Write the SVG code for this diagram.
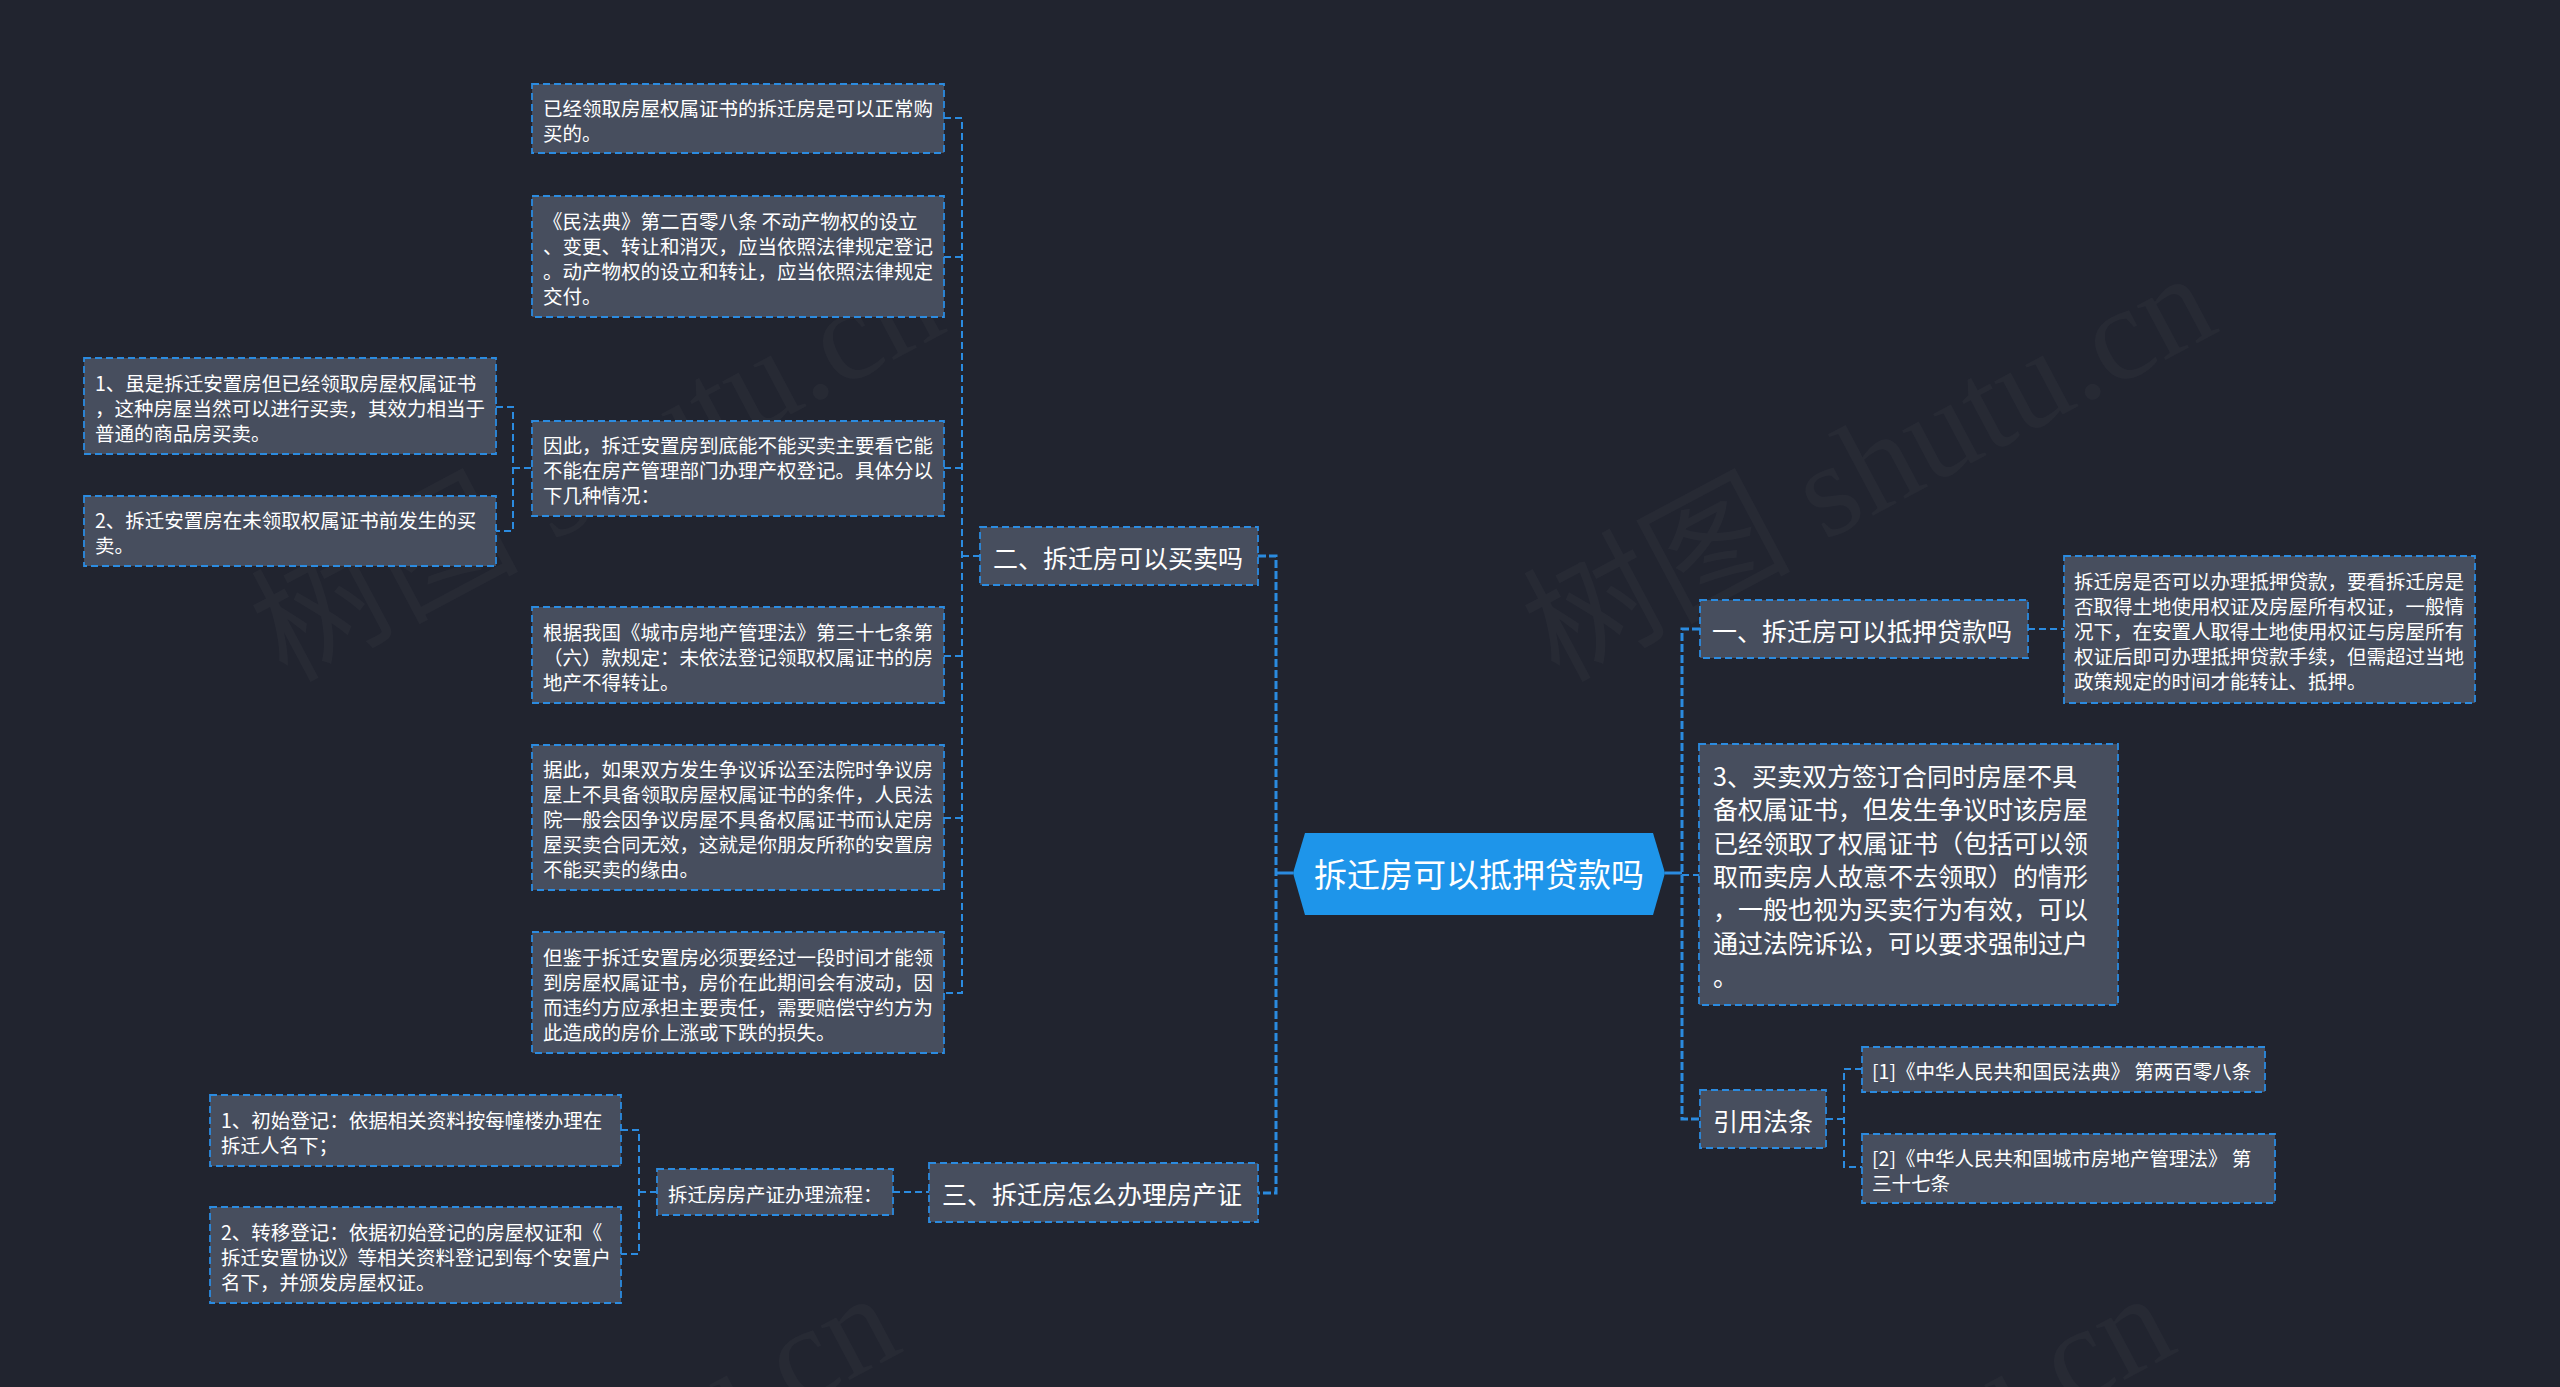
<svg xmlns="http://www.w3.org/2000/svg" width="2560" height="1387" viewBox="0 0 2560 1387">
<style>
.bg{fill:#21242f}
.wm{font-family:"Liberation Serif","Noto Sans CJK SC",serif;font-size:134px;fill:#ffffff;fill-opacity:0.028}
.box{fill:#474e5e;stroke:#2b8be0;stroke-width:1.8;stroke-dasharray:7 4}
.t{font-family:"Noto Sans CJK SC","Noto Sans",sans-serif;fill:#ffffff}
.s{font-size:19.5px}
.b{font-size:25px}
.c{font-size:33px}
.ln{fill:none;stroke:#2b8be0;stroke-width:2;stroke-dasharray:7 4}
.tr{fill:none;stroke:#2b8be0;stroke-width:3;stroke-dasharray:8 3}
.sol{fill:none;stroke:#2b8be0;stroke-width:3}
</style>
<rect class="bg" x="0" y="0" width="2560" height="1387"/>
<g id="watermarks">
<text class="wm" text-anchor="end" transform="translate(950,330) rotate(-28)">树图 shutu.cn</text>
<text class="wm" text-anchor="end" transform="translate(2222,330) rotate(-28)">树图 shutu.cn</text>
<text class="wm" text-anchor="end" transform="translate(906,1350) rotate(-28)">树图 shutu.cn</text>
<text class="wm" text-anchor="end" transform="translate(2181,1350) rotate(-28)">树图 shutu.cn</text>
</g>
<g id="connectors">
<path class="ln" d="M944 118 H962 V993 H944"/>
<path class="ln" d="M944 257 H962 M944 468 H962 M944 656 H962 M944 818 H962 M962 556 H980"/>
<path class="ln" d="M496 407 H513 V531 H496 M513 468 H532"/>
<path class="ln" d="M621 1130 H639 V1254 H621 M639 1192 H657"/>
<path class="ln" d="M893 1192 H929"/>
<path class="tr" d="M1258 556 H1276 V1193 H1258"/>
<path class="sol" d="M1276 873 H1293"/>
<path class="sol" d="M1665 873 H1682"/>
<path class="tr" d="M1700 629 H1682 V1119 H1700"/>
<path class="ln" d="M1682 875 H1699"/>
<path class="ln" d="M2028 629 H2064"/>
<path class="ln" d="M1826 1119 H1844 M1862 1069 H1844 V1167 H1862"/>
</g>
<g id="center">
<polygon points="1293,873 1305,833 1653,833 1665,873 1653,915 1305,915" fill="#1e95ea"/>
<text class="t c" x="1479" y="886.5" text-anchor="middle">拆迁房可以抵押贷款吗</text>
</g>
<g id="n-er">
<rect class="box" x="980" y="527" width="278" height="58"/>
<text class="t b" x="993" y="567.5">二、拆迁房可以买卖吗</text>
</g>
<g id="n1">
<rect class="box" x="532" y="84" width="412" height="69"/>
<text class="t s" x="543" y="115.5">已经领取房屋权属证书的拆迁房是可以正常购</text>
<text class="t s" x="543" y="140.5">买的。</text>
</g>
<g id="n2">
<rect class="box" x="532" y="196" width="412" height="121"/>
<text class="t s" x="543" y="228.5">《民法典》第二百零八条 不动产物权的设立</text>
<text class="t s" x="543" y="253.5">、变更、转让和消灭，应当依照法律规定登记</text>
<text class="t s" x="543" y="278.5">。动产物权的设立和转让，应当依照法律规定</text>
<text class="t s" x="543" y="303.5">交付。</text>
</g>
<g id="n3">
<rect class="box" x="532" y="421" width="412" height="95"/>
<text class="t s" x="543" y="453">因此，拆迁安置房到底能不能买卖主要看它能</text>
<text class="t s" x="543" y="478">不能在房产管理部门办理产权登记。具体分以</text>
<text class="t s" x="543" y="503">下几种情况：</text>
</g>
<g id="n3a">
<rect class="box" x="84" y="358" width="412" height="96"/>
<text class="t s" x="95" y="390.5">1、虽是拆迁安置房但已经领取房屋权属证书</text>
<text class="t s" x="95" y="415.5">，这种房屋当然可以进行买卖，其效力相当于</text>
<text class="t s" x="95" y="440.5">普通的商品房买卖。</text>
</g>
<g id="n3b">
<rect class="box" x="84" y="496" width="412" height="70"/>
<text class="t s" x="95" y="528">2、拆迁安置房在未领取权属证书前发生的买</text>
<text class="t s" x="95" y="553">卖。</text>
</g>
<g id="n4">
<rect class="box" x="532" y="607" width="412" height="96"/>
<text class="t s" x="543" y="639.5">根据我国《城市房地产管理法》第三十七条第</text>
<text class="t s" x="543" y="664.5">（六）款规定：未依法登记领取权属证书的房</text>
<text class="t s" x="543" y="689.5">地产不得转让。</text>
</g>
<g id="n5">
<rect class="box" x="532" y="745" width="412" height="145"/>
<text class="t s" x="543" y="777">据此，如果双方发生争议诉讼至法院时争议房</text>
<text class="t s" x="543" y="802">屋上不具备领取房屋权属证书的条件，人民法</text>
<text class="t s" x="543" y="827">院一般会因争议房屋不具备权属证书而认定房</text>
<text class="t s" x="543" y="852">屋买卖合同无效，这就是你朋友所称的安置房</text>
<text class="t s" x="543" y="877">不能买卖的缘由。</text>
</g>
<g id="n6">
<rect class="box" x="532" y="932" width="412" height="121"/>
<text class="t s" x="543" y="964.5">但鉴于拆迁安置房必须要经过一段时间才能领</text>
<text class="t s" x="543" y="989.5">到房屋权属证书，房价在此期间会有波动，因</text>
<text class="t s" x="543" y="1014.5">而违约方应承担主要责任，需要赔偿守约方为</text>
<text class="t s" x="543" y="1039.5">此造成的房价上涨或下跌的损失。</text>
</g>
<g id="n-san">
<rect class="box" x="929" y="1163" width="329" height="59"/>
<text class="t b" x="942" y="1204">三、拆迁房怎么办理房产证</text>
</g>
<g id="n-flow">
<rect class="box" x="657" y="1169" width="236" height="46"/>
<text class="t s" x="668" y="1201.5">拆迁房房产证办理流程：</text>
</g>
<g id="n-c1">
<rect class="box" x="210" y="1095" width="411" height="71"/>
<text class="t s" x="221" y="1127.5">1、初始登记：依据相关资料按每幢楼办理在</text>
<text class="t s" x="221" y="1152.5">拆迁人名下；</text>
</g>
<g id="n-c2">
<rect class="box" x="210" y="1207" width="411" height="96"/>
<text class="t s" x="221" y="1239.5">2、转移登记：依据初始登记的房屋权证和《</text>
<text class="t s" x="221" y="1264.5">拆迁安置协议》等相关资料登记到每个安置户</text>
<text class="t s" x="221" y="1289.5">名下，并颁发房屋权证。</text>
</g>
<g id="n-yi">
<rect class="box" x="1700" y="600" width="328" height="58"/>
<text class="t b" x="1712" y="640.5">一、拆迁房可以抵押贷款吗</text>
</g>
<g id="n-r1">
<rect class="box" x="2064" y="556" width="411" height="147"/>
<text class="t s" x="2074" y="589">拆迁房是否可以办理抵押贷款，要看拆迁房是</text>
<text class="t s" x="2074" y="614">否取得土地使用权证及房屋所有权证，一般情</text>
<text class="t s" x="2074" y="639">况下，在安置人取得土地使用权证与房屋所有</text>
<text class="t s" x="2074" y="664">权证后即可办理抵押贷款手续，但需超过当地</text>
<text class="t s" x="2074" y="689">政策规定的时间才能转让、抵押。</text>
</g>
<g id="n-3">
<rect class="box" x="1699" y="744" width="419" height="261"/>
<text class="t b" x="1713" y="786">3、买卖双方签订合同时房屋不具</text>
<text class="t b" x="1713" y="819.4">备权属证书，但发生争议时该房屋</text>
<text class="t b" x="1713" y="852.7">已经领取了权属证书（包括可以领</text>
<text class="t b" x="1713" y="886">取而卖房人故意不去领取）的情形</text>
<text class="t b" x="1713" y="919.3">，一般也视为买卖行为有效，可以</text>
<text class="t b" x="1713" y="952.6">通过法院诉讼，可以要求强制过户</text>
<text class="t b" x="1713" y="985.9">。</text>
</g>
<g id="n-cite">
<rect class="box" x="1700" y="1090" width="126" height="58"/>
<text class="t b" x="1713" y="1130.5">引用法条</text>
</g>
<g id="n-ref1">
<rect class="box" x="1862" y="1047" width="403" height="45"/>
<text class="t s" x="1872" y="1079">[1]《中华人民共和国民法典》 第两百零八条</text>
</g>
<g id="n-ref2">
<rect class="box" x="1862" y="1134" width="413" height="69"/>
<text class="t s" x="1872" y="1165.5">[2]《中华人民共和国城市房地产管理法》 第</text>
<text class="t s" x="1872" y="1190.5">三十七条</text>
</g>
</svg>
